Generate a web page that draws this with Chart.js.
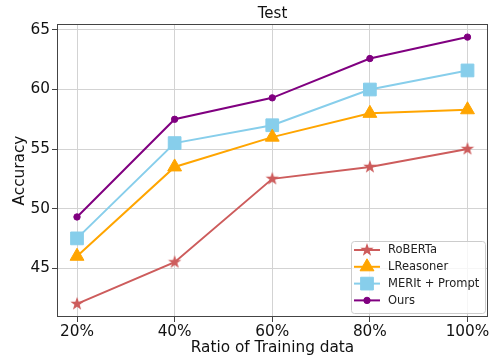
<!DOCTYPE html>
<html>
<head>
<meta charset="utf-8">
<script src="https://cdn.jsdelivr.net/npm/chart.js@4.4.0/dist/chart.umd.min.js"></script>
<style>
  html, body { margin: 0; padding: 0; background: #fff; }
  #wrap { width: 498px; height: 358px; }
</style>
</head>
<body>
<div id="wrap"><canvas id="accChart" width="498" height="358"></canvas></div>
<script>
// ratio of training data (%)
const ratios = [20, 40, 60, 80, 100];
const yTicks = [45, 50, 55, 60, 65];

const roberta = [42, 45.5, 52.5, 53.5, 55];
const lreasoner = [46, 53.5, 56, 58, 58.3];
const meritPrompt = [47.5, 55.5, 57, 60, 61.6];
const ours = [49.3, 57.5, 59.3, 62.6, 64.4];

const FONT = "'DejaVu Sans', sans-serif";

// filled five point star, like matplotlib's '*'
function makeStar(color, r) {
  const c = document.createElement("canvas");
  const s = Math.ceil(r * 2 + 2);
  c.width = s; c.height = s;
  const g = c.getContext("2d");
  g.fillStyle = color;
  g.beginPath();
  for (let i = 0; i < 10; i++) {
    const rad = i % 2 === 0 ? r : r * 0.4;
    const a = -Math.PI / 2 + i * Math.PI / 5;
    const px = s / 2 + rad * Math.cos(a), py = s / 2 + rad * Math.sin(a);
    if (i === 0) g.moveTo(px, py); else g.lineTo(px, py);
  }
  g.closePath();
  g.fill();
  return c;
}
const starImg = makeStar("#cd5c5c", 7);

const series = [
  { label: "RoBERTa", values: roberta, color: "#cd5c5c", style: starImg, radius: 7 },
  { label: "LReasoner", values: lreasoner, color: "#ffa500", style: "triangle", radius: 8 },
  { label: "MERIt + Prompt", values: meritPrompt, color: "#87ceeb", style: "rect", radius: 9 },
  { label: "Ours", values: ours, color: "#800080", style: "circle", radius: 3.2 },
];

// box around plot + matplotlib style legend
const framePlugin = {
  id: "frame",
  beforeDatasetsDraw(chart) {
    const { ctx, chartArea: a } = chart;
    ctx.save();
    ctx.strokeStyle = "#444";
    ctx.lineWidth = 1;
    ctx.strokeRect(a.left + 0.5, a.top + 0.5, a.right - a.left - 1, a.bottom - a.top - 1);
    ctx.restore();
  },
  afterDraw(chart) {
    const { ctx } = chart;
    const bx = 351, by = 241, bw = 134, bh = 72;
    ctx.save();
    ctx.fillStyle = "rgba(255,255,255,0.8)";
    ctx.strokeStyle = "#cccccc";
    ctx.lineWidth = 1;
    ctx.beginPath();
    ctx.roundRect(bx + 0.5, by + 0.5, bw, bh, 3);
    ctx.fill();
    ctx.stroke();
    ctx.font = "11.5px " + FONT;
    ctx.textBaseline = "middle";
    series.forEach((s, i) => {
      const y = 250 + i * 16.8;
      ctx.strokeStyle = s.color;
      ctx.lineWidth = 2;
      ctx.beginPath();
      ctx.moveTo(354, y);
      ctx.lineTo(380, y);
      ctx.stroke();
      ctx.fillStyle = s.color;
      ctx.strokeStyle = s.color;
      ctx.lineWidth = 1;
      Chart.helpers.drawPoint(ctx, { pointStyle: s.style, radius: s.radius, rotation: 0, borderWidth: 1 }, 367, y);
      ctx.fillStyle = "#222";
      ctx.fillText(s.label, 388, y + 0.5);
    });
    ctx.restore();
  },
};

const ctx = document.getElementById("accChart").getContext("2d");
new Chart(ctx, {
  type: "line",
  data: {
    datasets: series.map(s => ({
      label: s.label,
      data: ratios.map((r, i) => ({ x: r, y: s.values[i] })),
      borderColor: s.color,
      backgroundColor: s.color,
      borderWidth: 2,
      pointStyle: s.style,
      pointRadius: s.radius,
      pointBorderWidth: 1,
      pointBackgroundColor: s.color,
      pointBorderColor: s.color,
      tension: 0,
    })),
  },
  options: {
    responsive: false,
    animation: false,
    events: [],
    layout: { padding: { left: 0, right: 6, top: 0, bottom: 0 } },
    plugins: {
      legend: { display: false },
      tooltip: { enabled: false },
      title: {
        display: true,
        text: "Test",
        fullSize: false,
        color: "#111",
        font: { family: FONT, size: 15, weight: "normal" },
        padding: { top: 5, bottom: 1 },
      },
    },
    scales: {
      x: {
        type: "linear",
        min: 15.9,
        max: 104.2,
        afterBuildTicks: s => { s.ticks = ratios.map(v => ({ value: v })); },
        afterFit: s => { s.height = 41; },
        ticks: {
          padding: 1,
          color: "#111",
          font: { family: FONT, size: 15.3 },
          callback: v => v + "%",
        },
        grid: { color: "#d3d3d3", tickColor: "#444", tickLength: 5 },
        border: { display: false },
        title: {
          display: true,
          text: "Ratio of Training data",
          color: "#111",
          font: { family: FONT, size: 15.3 },
          padding: { top: 0, bottom: 1 },
        },
      },
      y: {
        min: 40.9,
        max: 65.5,
        afterBuildTicks: s => { s.ticks = yTicks.map(v => ({ value: v })); },
        afterFit: s => { s.width = 57; },
        ticks: {
          padding: 2,
          color: "#111",
          font: { family: FONT, size: 15.3 },
        },
        grid: { color: "#d3d3d3", tickColor: "#444", tickLength: 5 },
        border: { display: false },
        title: {
          display: true,
          text: "Accuracy",
          color: "#111",
          font: { family: FONT, size: 15.3 },
          padding: { top: 11, bottom: 0 },
        },
      },
    },
  },
  plugins: [framePlugin],
});
</script>
</body>
</html>
